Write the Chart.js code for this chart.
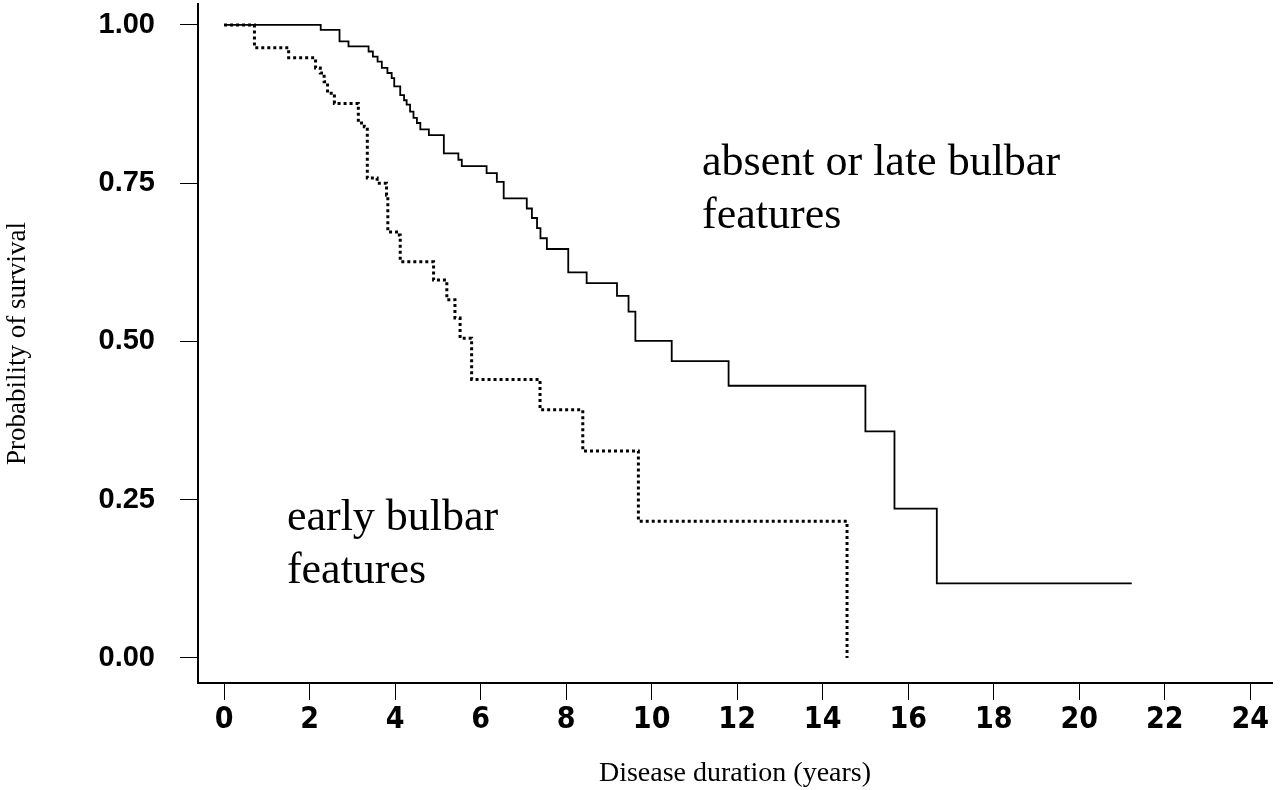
<!DOCTYPE html>
<html><head><meta charset="utf-8">
<script src="https://cdn.jsdelivr.net/npm/chart.js@4/dist/chart.umd.min.js"></script>
<style>html,body{margin:0;padding:0;background:#fff}#wrap{width:1280px;height:790px}</style>
</head><body><div id="wrap"><canvas id="c" width="1280" height="790"></canvas></div>
<script>
// Kaplan-Meier estimates (time in years, survival probability after each drop)
const lateTimes    = [0, 2.26, 2.70, 2.91, 3.38, 3.48, 3.59, 3.69, 3.82, 3.92, 3.98, 4.12, 4.21, 4.27, 4.35, 4.43, 4.51, 4.59, 4.79, 5.14, 5.48, 5.56, 6.14, 6.38, 6.54, 7.08, 7.20, 7.32, 7.40, 7.55, 8.05, 8.48, 9.19, 9.46, 9.62, 10.47, 11.80, 15.00, 15.68, 16.67, 21.23];
const lateSurvival = [1.00, 0.992, 0.974, 0.966, 0.958, 0.950, 0.942, 0.932, 0.924, 0.916, 0.903, 0.889, 0.881, 0.874, 0.863, 0.853, 0.845, 0.835, 0.826, 0.797, 0.787, 0.777, 0.766, 0.752, 0.726, 0.710, 0.695, 0.679, 0.663, 0.646, 0.609, 0.592, 0.572, 0.547, 0.501, 0.469, 0.430, 0.358, 0.236, 0.118, 0.118];

const earlyTimes    = [0, 0.71, 1.51, 2.14, 2.25, 2.34, 2.42, 2.58, 3.14, 3.28, 3.35, 3.58, 3.80, 3.83, 4.10, 4.12, 4.90, 5.21, 5.40, 5.52, 5.79, 7.39, 8.39, 9.69, 14.57];
const earlySurvival = [1.00, 0.964, 0.948, 0.932, 0.924, 0.910, 0.892, 0.876, 0.845, 0.839, 0.758, 0.750, 0.731, 0.673, 0.668, 0.626, 0.597, 0.566, 0.537, 0.505, 0.440, 0.392, 0.327, 0.216, 0.000];

const xTickValues = [0, 2, 4, 6, 8, 10, 12, 14, 16, 18, 20, 22, 24];
const xTickLabels = ['0', '2', '4', '6', '8', '10', '12', '14', '16', '18', '20', '22', '24'];
const yTickValues = [0, 0.25, 0.5, 0.75, 1];
const yTickLabels = ['0.00', '0.25', '0.50', '0.75', '1.00'];

const annotationText = ['absent or late bulbar', 'features', 'early bulbar', 'features'];
const annotationX    = [11.18, 11.18, 1.47, 1.47];
const annotationY    = [0.763, 0.679, 0.202, 0.118];

const xTitle = 'Disease duration (years)';
const yTitle = 'Probability of survival';

const toPoints = (xs, ys) => xs.map((x, i) => ({x: x, y: ys[i]}));

const whiteBg = {
  id: 'whiteBg',
  beforeDraw(chart) {
    const c = chart.ctx; c.save(); c.fillStyle = '#fff';
    c.fillRect(0, 0, chart.width, chart.height); c.restore();
  }
};
const annotations = {
  id: 'annotations',
  afterDatasetsDraw(chart) {
    const c = chart.ctx, xs = chart.scales.x, ys = chart.scales.y;
    c.save();
    c.fillStyle = '#000';
    c.font = '44px "Liberation Serif", "Times New Roman", serif';
    c.textAlign = 'left'; c.textBaseline = 'alphabetic';
    annotationText.forEach((t, i) => {
      c.fillText(t, xs.getPixelForValue(annotationX[i]), ys.getPixelForValue(annotationY[i]));
    });
    c.restore();
  }
};

new Chart(document.getElementById('c'), {
  type: 'line',
  data: {
    datasets: [
      { label: 'absent or late bulbar features', data: toPoints(lateTimes, lateSurvival),
        stepped: 'before', borderColor: '#000', borderWidth: 1.8, pointRadius: 0, fill: false, tension: 0 },
      { label: 'early bulbar features', data: toPoints(earlyTimes, earlySurvival),
        stepped: 'before', borderColor: '#000', borderWidth: 3, borderDash: [3, 3], pointRadius: 0, fill: false, tension: 0 }
    ]
  },
  options: {
    responsive: false, animation: false, devicePixelRatio: 1,
    layout: { autoPadding: false, padding: { top: 4, right: 8, left: 0, bottom: 0 } },
    plugins: { legend: { display: false }, tooltip: { enabled: false } },
    scales: {
      x: {
        type: 'linear', min: -0.61, max: 24.51,
        afterBuildTicks: s => { s.ticks = xTickValues.map(v => ({ value: v })); },
        afterFit: s => { s.height = 107; s.paddingLeft = 0; s.paddingRight = 0; },
        ticks: { autoSkip: false, maxRotation: 0, padding: 2, color: '#000',
          font: { family: "'Liberation Sans Narrow', 'Arial Narrow', 'DejaVu Sans Condensed', sans-serif", size: 30, weight: 'bold' },
          callback: v => xTickLabels[xTickValues.indexOf(v)] },
        grid: { display: true, drawOnChartArea: false, drawTicks: true, tickLength: 17, color: '#000', lineWidth: 1 },
        border: { display: true, color: '#000', width: 2 },
        title: { display: true, text: xTitle, color: '#000', padding: { top: 0, bottom: 0 },
          font: { family: "'Liberation Serif', 'Times New Roman', serif", size: 28 } }
      },
      y: {
        type: 'linear', min: -0.0395, max: 1.033,
        afterBuildTicks: s => { s.ticks = yTickValues.map(v => ({ value: v })); },
        afterFit: s => { s.width = 198; s.paddingTop = 0; s.paddingBottom = 0; },
        ticks: { padding: 25, color: '#000',
          font: { family: "'Liberation Sans', Arial, sans-serif", size: 29, weight: 'bold' },
          callback: v => yTickLabels[yTickValues.indexOf(v)] },
        grid: { display: true, drawOnChartArea: false, drawTicks: true, tickLength: 18, color: '#000', lineWidth: 1 },
        border: { display: true, color: '#000', width: 2 },
        title: { display: true, text: yTitle, color: '#000', padding: { top: 2, bottom: 0 },
          font: { family: "'Liberation Serif', 'Times New Roman', serif", size: 27 } }
      }
    }
  },
  plugins: [whiteBg, annotations]
});
</script>
</body></html>
